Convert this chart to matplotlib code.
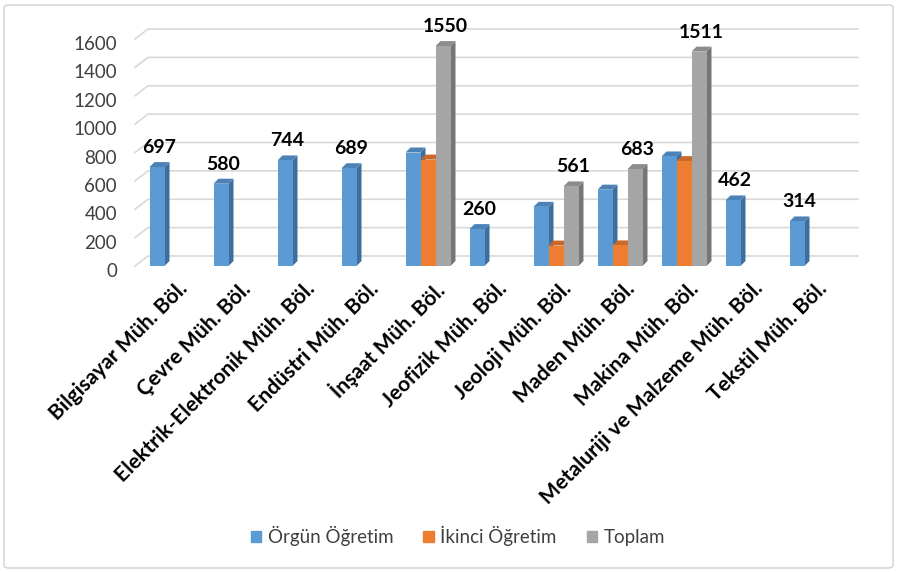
import matplotlib.pyplot as plt
from matplotlib.patches import Polygon, FancyBboxPatch
from matplotlib.transforms import ScaledTranslation
import numpy as np

categories = ["Bilgisayar Müh. Böl.", "Çevre Müh. Böl.", "Elektrik-Elektronik Müh. Böl.",
              "Endüstri Müh. Böl.", "İnşaat Müh. Böl.", "Jeofizik Müh. Böl.",
              "Jeoloji Müh. Böl.", "Maden Müh. Böl.", "Makina Müh. Böl.",
              "Metaluriji ve Malzeme Müh. Böl.", "Tekstil Müh. Böl."]
orgun = [697, 580, 744, 689, 800, 260, 417, 538, 772, 462, 314]
ikinci = [0, 0, 0, 0, 750, 0, 144, 145, 739, 0, 0]
toplam = [0, 0, 0, 0, 1550, 0, 561, 683, 1511, 0, 0]
series_names = ["Örgün Öğretim", "İkinci Öğretim", "Toplam"]
yticks = [0, 200, 400, 600, 800, 1000, 1200, 1400, 1600]

front = ["#5B9BD5", "#ED7D31", "#A5A5A5"]
side = ["#3F6E9C", "#B55A1E", "#767676"]
top = ["#4C82B5", "#C9682A", "#8C8C8C"]

plt.rcParams['font.family'] = ['Lato', 'DejaVu Sans']

W, H = 898, 572
fig = plt.figure(figsize=(W / 100, H / 100), dpi=100)
border = FancyBboxPatch((4 / W, 4 / H), 1 - 9 / W, 1 - 9 / H,
                        boxstyle="round,pad=0,rounding_size=0.005",
                        transform=fig.transFigure, fc="white",
                        ec="#d0d0d0", lw=1, zorder=-5)
fig.patches.append(border)

# axes placement in pixels
x0, x1 = 135, 858
y_zero, y_top = 266, 39
ax = fig.add_axes([x0 / W, (H - y_zero) / H, (x1 - x0) / W, (y_zero - y_top) / H])
ax.patch.set_alpha(0)
spacing = 64
c0 = 172
xmin = (x0 - c0) / spacing
xmax = (x1 - c0) / spacing
ax.set_xlim(xmin, xmax)
ax.set_ylim(0, 1600)
for s in ax.spines.values():
    s.set_visible(False)

px_x = 1 / spacing
px_y = 1600 / (y_zero - y_top)

# back wall gridlines with 3D slant
wall_dx, wall_dy = 13 * px_x, 10 * px_y
for v in yticks:
    ax.plot([xmin, xmin + wall_dx, xmax], [v, v + wall_dy, v + wall_dy],
            color="#d9d9d9", lw=1.2, clip_on=False, zorder=0)

ax.set_yticks(yticks)
ax.set_yticklabels([str(v) for v in yticks], fontsize=13.5, color="#404040")
ax.tick_params(axis="y", length=0, pad=13)
for lab in ax.get_yticklabels():
    lab.set_transform(lab.get_transform() + ScaledTranslation(0, -0.04, fig.dpi_scale_trans))

x = np.arange(len(categories))
bw = 15 * px_x
ddx, ddy = 5 * px_x, 5 * px_y

for k, vals in enumerate([orgun, ikinci, toplam]):
    for i, v in enumerate(vals):
        if v <= 0:
            continue
        left = x[i] + (k - 1) * bw - bw / 2
        right = left + bw
        ax.bar(left, v, width=bw, align="edge", color=front[k], zorder=3)
        ax.add_patch(Polygon([(right, 0), (right + ddx, ddy), (right + ddx, v + ddy), (right, v)],
                             closed=True, fc=side[k], ec="none", zorder=2))
        ax.add_patch(Polygon([(left, v), (left + ddx, v + ddy), (right + ddx, v + ddy), (right, v)],
                             closed=True, fc=top[k], ec="none", zorder=2))

# value labels: Toplam if present, otherwise Örgün
for i in range(len(categories)):
    if toplam[i] > 0:
        v, xc = toplam[i], x[i] + bw
    else:
        v, xc = orgun[i], x[i] - bw
    ax.text(xc + 2 * px_x, v + 11 * px_y, str(v), ha="center", va="bottom",
            fontsize=14, fontweight="bold", color="black", clip_on=False)

ax.set_xticks(x)
ax.set_xticklabels(categories, rotation=45, ha="right", rotation_mode="anchor",
                   fontsize=15.2, fontweight="bold", color="black")
ax.tick_params(axis="x", length=0, pad=9)
for lab in ax.get_xticklabels():
    lab.set_transform(lab.get_transform() + ScaledTranslation(0.05, 0, fig.dpi_scale_trans))

# legend
handles = [plt.Rectangle((0, 0), 1, 1, color=c) for c in front]
fig.legend(handles, series_names, loc="center", bbox_to_anchor=(458 / W, 1 - 536 / H),
           ncol=3, frameon=False, fontsize=13.5, handlelength=0.55, handleheight=0.55,
           columnspacing=1.6, handletextpad=0.35, labelcolor="#404040")

fig.savefig("out.png", dpi=100)
